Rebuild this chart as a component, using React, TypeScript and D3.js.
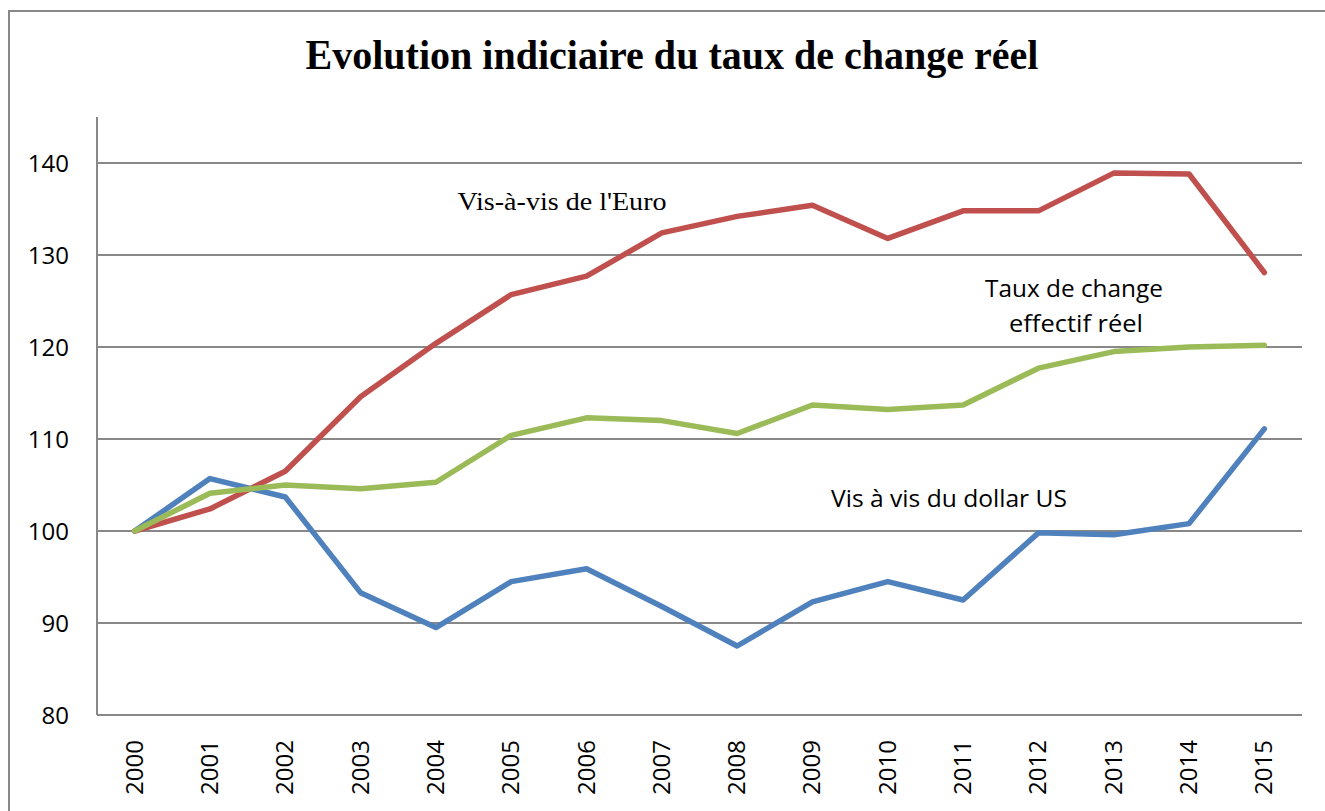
import * as d3 from 'd3';

const years = ['2000', '2001', '2002', '2003', '2004', '2005', '2006', '2007', '2008', '2009', '2010', '2011', '2012', '2013', '2014', '2015'];
const euro = [100, 102.4, 106.5, 114.6, 120.4, 125.7, 127.7, 132.4, 134.2, 135.4, 131.8, 134.8, 134.8, 138.9, 138.8, 128.1];
const effectif = [100, 104.1, 105.0, 104.6, 105.3, 110.4, 112.3, 112.0, 110.6, 113.7, 113.2, 113.7, 117.7, 119.5, 120.0, 120.2];
const dollar = [100, 105.7, 103.7, 93.3, 89.5, 94.5, 95.9, 91.8, 87.5, 92.3, 94.5, 92.5, 99.8, 99.6, 100.8, 111.1];
const yTicks = [80, 90, 100, 110, 120, 130, 140];

const W = 1325;
const H = 811;
const sans = '"Open Sans", "Liberation Sans", sans-serif';
const serif = '"Liberation Serif", "DejaVu Serif", serif';

export default function App() {
  const x = d3.scalePoint<string>().domain(years).range([97, 1302]).padding(0.5);
  const y = d3.scaleLinear().domain([80, 145]).range([715, 117]);

  const line = d3
    .line<number>()
    .x((_, i) => x(years[i]) as number)
    .y((d) => y(d));

  // drawing order: dollar under, then euro, then effectif on top
  const series = [
    { values: dollar, color: '#4F81BD' },
    { values: euro, color: '#C0504D' },
    { values: effectif, color: '#9BBB59' },
  ];

  return (
    <svg width={W} height={H} style={{ position: 'absolute', left: 0, top: 0, background: '#fff' }}>
      <rect x={9} y={11} width={W + 20} height={H + 20} fill="#fff" stroke="#888" strokeWidth={2} />

      <text x={672} y={69} textAnchor="middle" fontFamily={serif} fontWeight="bold" fontSize={43}
        textLength={733} lengthAdjust="spacingAndGlyphs">
        Evolution indiciaire du taux de change réel
      </text>

      {/* gridlines */}
      {yTicks.filter((t) => t > 80).map((t) => (
        <line key={t} x1={97} x2={1302} y1={y(t)} y2={y(t)} stroke="#888" strokeWidth={2} />
      ))}
      {/* axes */}
      <line x1={97} x2={97} y1={y(145)} y2={y(80)} stroke="#888" strokeWidth={2} />
      <line x1={97} x2={1302} y1={y(80)} y2={y(80)} stroke="#888" strokeWidth={2} />

      {yTicks.map((t) => (
        <text key={t} x={69} y={y(t)} dy="0.36em" textAnchor="end" fontFamily={sans} fontSize={24} fill="#000">
          {t}
        </text>
      ))}

      {years.map((yr) => (
        <text key={yr} transform={`translate(${(x(yr) as number) + 8},740) rotate(-90)`} textAnchor="end"
          fontFamily={sans} fontSize={24} fill="#000">
          {yr}
        </text>
      ))}

      {series.map((s) => (
        <path key={s.color} d={line(s.values) ?? ''} fill="none" stroke={s.color} strokeWidth={5.5}
          strokeLinejoin="round" strokeLinecap="round" />
      ))}

      <text x={562} y={210} textAnchor="middle" fontFamily={serif} fontSize={26} fill="#000"
        textLength={209} lengthAdjust="spacingAndGlyphs">
        Vis-à-vis de l'Euro
      </text>
      <text x={1074} y={297} textAnchor="middle" fontFamily={sans} fontSize={23} fill="#000"
        textLength={178} lengthAdjust="spacingAndGlyphs">
        Taux de change
      </text>
      <text x={1076} y={332} textAnchor="middle" fontFamily={sans} fontSize={23} fill="#000"
        textLength={134} lengthAdjust="spacingAndGlyphs">
        effectif réel
      </text>
      <text x={949} y={507} textAnchor="middle" fontFamily={sans} fontSize={23} fill="#000"
        textLength={236} lengthAdjust="spacingAndGlyphs">
        Vis à vis du dollar US
      </text>
    </svg>
  );
}
